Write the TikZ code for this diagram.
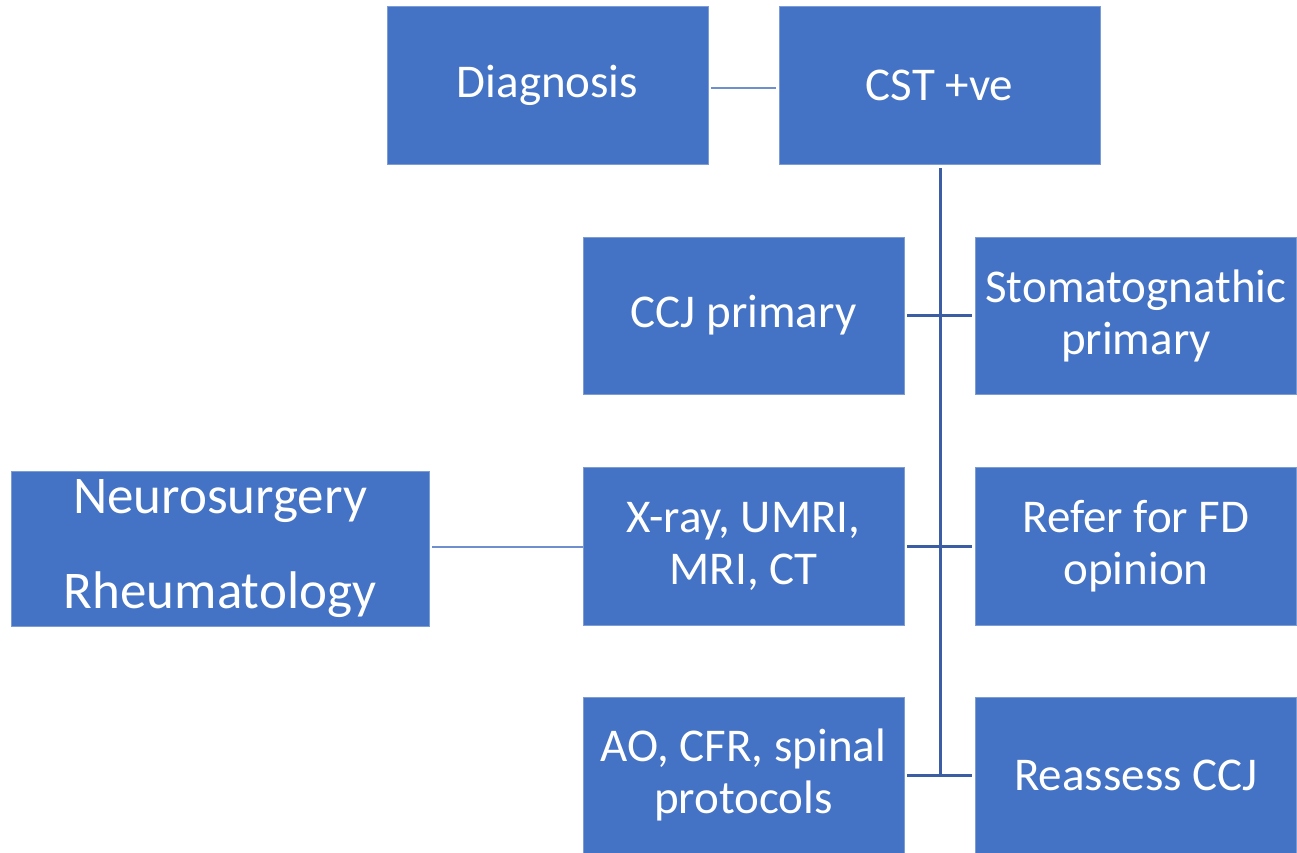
\documentclass[tikz,border=0pt]{standalone}
\usepackage{fontspec}
\setmainfont{Carlito}
\usetikzlibrary{calc}
\definecolor{boxblue}{HTML}{4472C4}
\definecolor{darkline}{HTML}{3A5DA3}
\definecolor{lightline}{HTML}{6E8FCE}
\tikzset{
  box/.style={fill=boxblue, draw=boxblue!70!white, line width=0.6pt, text=white, inner sep=0pt,
    minimum width=321pt, minimum height=158pt, align=center,
    font=\fontsize{47}{52}\selectfont},
  darkconn/.style={draw=darkline, line width=3pt},
  lightconn/.style={draw=lightline, line width=1.8pt},
}
\begin{document}
\begin{tikzpicture}[x=1pt,y=1pt]
\useasboundingbox (0,0) rectangle (1297,853);
\node[box] (diag) at (547.5,768) {Diagnosis};
\node[box] (cst) at (939.5,768) {CST +ve};
\node[box, minimum height=157pt] (ccj) at (743.5,537.5) {CCJ primary};
\node[box, minimum height=157pt] (stom) at (1136,537.5) {Stomatognathic\\primary};
\node[box] (xray) at (743.5,307) {X-ray, UMRI,\\MRI, CT};
\node[box] (refer) at (1136,307) {Refer for FD\\opinion};
\node[box, minimum height=156pt] (ao) at (743.5,78) {AO, CFR, spinal\\protocols};
\node[box, minimum height=156pt] (reas) at (1136,78) {Reassess CCJ};
\node[box, minimum width=418pt, minimum height=155pt, font=\fontsize{53}{58}\selectfont] (neuro) at (220,304.5) {Neurosurgery\\[37pt]Rheumatology};
\coordinate (vbot) at (940,77);
\draw[lightconn] ($(diag.east)+(3,-3)$) -- ($(cst.west)+(-3,-3)$);
\draw[darkconn] ($(cst.south)+(0.5,-4)$) -- (vbot);
\draw[darkconn] ($(ccj.east)+(3,0)$) -- ($(stom.west)+(-3,0)$);
\draw[darkconn] ($(xray.east)+(3,-1)$) -- ($(refer.west)+(-3,-1)$);
\draw[darkconn] ($(ao.east)+(3,-1)$) -- ($(reas.west)+(-3,-1)$);
\draw[lightconn] ($(neuro.east)+(3,1.5)$) -- ($(xray.west)+(0,-1)$);
\end{tikzpicture}
\end{document}
